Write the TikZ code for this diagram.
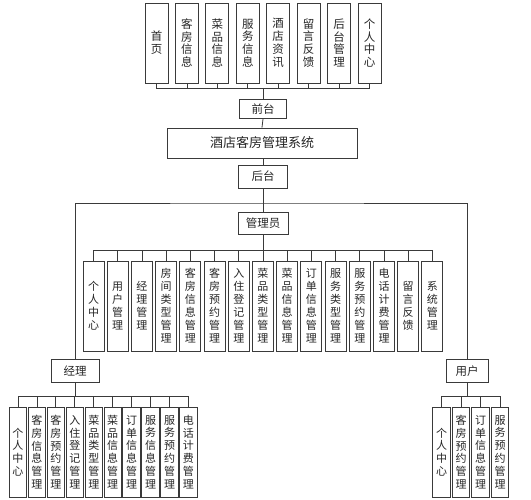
\documentclass[tikz,border=0pt]{standalone}
\usepackage{fontspec}
\setmainfont{Noto Sans CJK SC}
\usepackage{xcolor}
\usepackage{tikz}
\usetikzlibrary{calc}
\definecolor{edge}{HTML}{3A3A3A}
\tikzset{
  box/.style={draw=edge, line width=0.9pt, fill=white, inner sep=0pt, align=center, text=black!85},
  link/.style={draw=edge, line width=0.8pt},
  topbox/.style={box, minimum width=23pt, minimum height=80pt, font=\fontsize{11.5}{12.8}\selectfont},
  midbox/.style={box, minimum width=21pt, minimum height=90pt, font=\fontsize{11}{13}\selectfont},
  lowbox/.style={box, minimum width=17.5pt, minimum height=90pt, font=\fontsize{11}{12.8}\selectfont},
  flatbox/.style={box, font=\fontsize{11.5}{13}\selectfont}
}

\begin{document}
\begin{tikzpicture}[x=1pt,y=-1pt]
  \useasboundingbox (0,0) rectangle (531,500);
  % Front pages: top row
  \foreach \lbl [count=\i] in {{首\\页},{客\\房\\信\\息},{菜\\品\\信\\息},{服\\务\\信\\息},{酒\\店\\资\\讯},{留\\言\\反\\馈},{后\\台\\管\\理},{个\\人\\中\\心}}
    \node[topbox] (f\i) at ({156.5+(\i-1)*30.43},43) {\lbl};
  \coordinate (fb) at (263,88);
  \foreach \i in {1,...,8}
    \draw[link] (f\i.south) |- (fb);
  % Front, system and back
  \node[flatbox, minimum width=47pt, minimum height=19pt] (qt) at (263,109) {前台};
  \node[flatbox, minimum width=190pt, minimum height=30pt, font=\fontsize{13}{14}\selectfont] (sys) at (262,143) {酒店客房管理系统};
  \node[flatbox, minimum width=49pt, minimum height=23pt] (ht) at (263,176.5) {后台};
  \draw[link] (fb) -- (qt.north);
  \draw[link] (qt.south) -- (sys.north);
  \draw[link] (sys.south) -- (ht.south |- sys.south) -- (ht.north);
  % Roles
  \node[flatbox, minimum width=50pt, minimum height=22pt] (adm) at (263,223.5) {管理员};
  \node[flatbox, minimum width=48pt, minimum height=23pt] (jl) at (75,370.5) {经理};
  \node[flatbox, minimum width=42pt, minimum height=23pt] (yh) at (467,371) {用户};
  \coordinate (hb) at (263,203);
  \draw[link] (ht.south) -- (adm.north);
  \draw[link] (jl.north) |- (hb) -| (yh.north);
  % Administrator modules
  \foreach \lbl [count=\i] in {{个\\人\\中\\心},{用\\户\\管\\理},{经\\理\\管\\理},{房\\间\\类\\型\\管\\理},{客\\房\\信\\息\\管\\理},{客\\房\\预\\约\\管\\理},{入\\住\\登\\记\\管\\理},{菜\\品\\类\\型\\管\\理},{菜\\品\\信\\息\\管\\理},{订\\单\\信\\息\\管\\理},{服\\务\\类\\型\\管\\理},{服\\务\\预\\约\\管\\理},{电\\话\\计\\费\\管\\理},{留\\言\\反\\馈},{系\\统\\管\\理}}
    \node[midbox] (a\i) at ({93.5+(\i-1)*24.21},306) {\lbl};
  \coordinate (ab) at (263,250);
  \draw[link] (adm.south) -- (ab);
  \foreach \i in {1,...,15}
    \draw[link] (a\i.north) |- (ab);
  % Manager modules
  \foreach \lbl [count=\i] in {{个\\人\\中\\心},{客\\房\\信\\息\\管\\理},{客\\房\\预\\约\\管\\理},{入\\住\\登\\记\\管\\理},{菜\\品\\类\\型\\管\\理},{菜\\品\\信\\息\\管\\理},{订\\单\\信\\息\\管\\理},{服\\务\\信\\息\\管\\理},{服\\务\\预\\约\\管\\理},{电\\话\\计\\费\\管\\理}}
    \node[lowbox] (m\i) at ({18+(\i-1)*18.94},452) {\lbl};
  \coordinate (mb) at (75,396);
  \draw[link] (jl.south) -- (mb);
  \foreach \i in {1,...,10}
    \draw[link] (m\i.north) |- (mb);
  % User modules
  \foreach \lbl [count=\i] in {{个\\人\\中\\心},{客\\房\\预\\约\\管\\理},{订\\单\\信\\息\\管\\理},{服\\务\\预\\约\\管\\理}}
    \node[lowbox] (u\i) at ({441.5+(\i-1)*19.5},452) {\lbl};
  \coordinate (ub) at (467,396);
  \draw[link] (yh.south) -- (ub);
  \foreach \i in {1,...,4}
    \draw[link] (u\i.north) |- (ub);
\end{tikzpicture}
\end{document}
